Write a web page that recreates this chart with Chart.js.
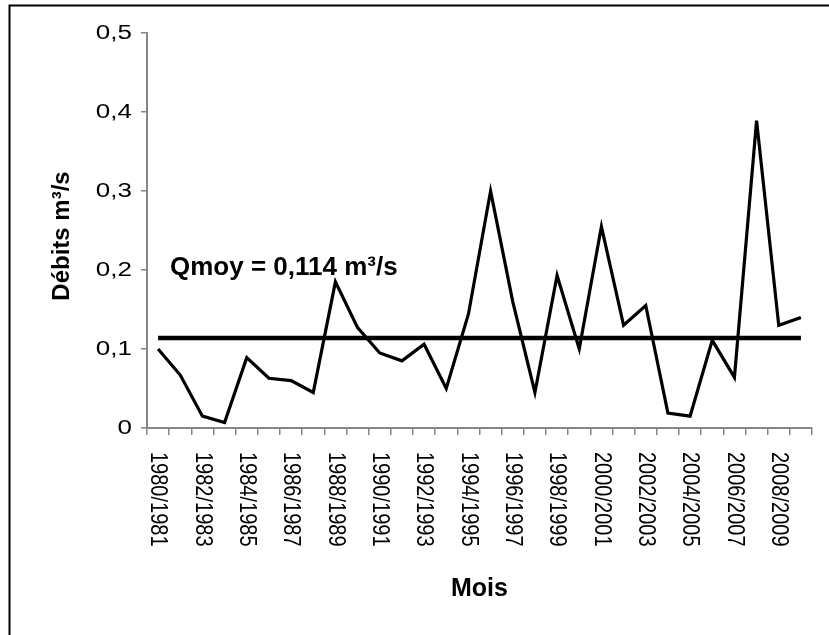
<!DOCTYPE html>
<html>
<head>
<meta charset="utf-8">
<script src="https://cdn.jsdelivr.net/npm/chart.js@4/dist/chart.umd.min.js"></script>
<style>
  html, body { margin: 0; padding: 0; background: #fff; }
  #wrap { width: 829px; height: 635px; position: relative; }
</style>
</head>
<body>
<div id="wrap"><canvas id="debitsChart" width="829" height="635"></canvas></div>
<script>
// Hydrological years (30) and annual discharges
const years = [
  '1980/1981', '1981/1982', '1982/1983', '1983/1984', '1984/1985', '1985/1986',
  '1986/1987', '1987/1988', '1988/1989', '1989/1990', '1990/1991', '1991/1992',
  '1992/1993', '1993/1994', '1994/1995', '1995/1996', '1996/1997', '1997/1998',
  '1998/1999', '1999/2000', '2000/2001', '2001/2002', '2002/2003', '2003/2004',
  '2004/2005', '2005/2006', '2006/2007', '2007/2008', '2008/2009', '2009/2010'
];
const debits = [
  0.100, 0.067, 0.015, 0.007, 0.089, 0.063, 0.060, 0.045, 0.185, 0.127,
  0.095, 0.085, 0.106, 0.050, 0.144, 0.300, 0.160, 0.045, 0.193, 0.100,
  0.255, 0.130, 0.155, 0.019, 0.015, 0.111, 0.064, 0.389, 0.130, 0.140
];
const qmoy = 0.114;
const qmoyLine = years.map(() => qmoy);
const yTicks = [0, 0.1, 0.2, 0.3, 0.4, 0.5];

const fontFamily = '"Liberation Sans", Arial, sans-serif';
const axisGray = '#868686';

function frenchNum(v) {
  return v === 0 ? '0' : v.toFixed(1).replace('.', ',');
}

// draws text with optional horizontal stretch and rotation
function drawText(c, str, x, y, font, align, stretch, angle) {
  c.save();
  c.translate(x, y);
  c.scale(stretch, 1);
  c.rotate(angle);
  c.font = font;
  c.textAlign = align;
  c.textBaseline = 'middle';
  c.fillText(str, 0, 0);
  c.restore();
}

// border, tick labels and the text annotations
const decorPlugin = {
  id: 'decor',
  beforeDraw(chart) {
    const c = chart.ctx;
    c.save();
    c.fillStyle = '#fff';
    c.fillRect(0, 0, chart.width, chart.height);
    c.strokeStyle = '#000';
    c.lineWidth = 2;
    c.beginPath();
    c.moveTo(9.5, chart.height);
    c.lineTo(9.5, 5.5);
    c.lineTo(chart.width, 5.5);
    c.stroke();
    c.restore();
  },
  afterDraw(chart) {
    const c = chart.ctx;
    const xs = chart.scales.x;
    const ys = chart.scales.y;
    const area = chart.chartArea;
    c.save();
    c.fillStyle = '#000';

    // y tick labels
    yTicks.forEach(v => {
      drawText(c, frenchNum(v), area.left - 15, ys.getPixelForValue(v),
        '20px ' + fontFamily, 'right', 1.3, 0);
    });

    // x labels, every other year, reading top to bottom
    years.forEach((lab, i) => {
      if (i % 2 !== 0) return;
      drawText(c, lab, xs.getPixelForValue(i), area.bottom + 24,
        '20px ' + fontFamily, 'left', 1.2, Math.PI / 2);
    });

    // axis titles
    drawText(c, 'Mois', (area.left + area.right) / 2, 589,
      'bold 25px ' + fontFamily, 'center', 1, 0);
    drawText(c, 'Débits m³/s', 62, 236,
      'bold 24px ' + fontFamily, 'center', 1, -Math.PI / 2);

    // mean annotation
    c.font = 'bold 26px ' + fontFamily;
    c.textAlign = 'left';
    c.textBaseline = 'alphabetic';
    c.fillText('Qmoy = 0,114 m³/s', 170, ys.getPixelForValue(0.2) + 5);
    c.restore();
  }
};

const ctx = document.getElementById('debitsChart').getContext('2d');
const chart = new Chart(ctx, {
  type: 'line',
  data: {
    labels: years,
    datasets: [
      {
        label: 'Débits',
        data: debits,
        borderColor: '#000',
        borderWidth: 3.2,
        pointRadius: 0,
        tension: 0,
        fill: false
      },
      {
        label: 'Qmoy',
        data: qmoyLine,
        borderColor: '#000',
        borderWidth: 4.5,
        pointRadius: 0,
        tension: 0,
        fill: false
      }
    ]
  },
  options: {
    responsive: false,
    animation: false,
    devicePixelRatio: 1,
    layout: { padding: { left: 0, top: 33, right: 17, bottom: 0 } },
    plugins: {
      legend: { display: false },
      tooltip: { enabled: false }
    },
    scales: {
      x: {
        type: 'category',
        offset: true,
        grid: {
          offset: true,
          drawOnChartArea: false,
          drawTicks: true,
          tickLength: 7,
          color: axisGray,
          lineWidth: 1.5
        },
        border: { display: true, color: axisGray, width: 2 },
        ticks: { display: false, autoSkip: false },
        afterFit(scale) { scale.height = 635 - 428; }
      },
      y: {
        min: 0,
        max: 0.5,
        afterBuildTicks(scale) { scale.ticks = yTicks.map(v => ({ value: v })); },
        grid: {
          drawOnChartArea: false,
          drawTicks: true,
          tickLength: 6,
          color: axisGray,
          lineWidth: 1.5
        },
        border: { display: true, color: axisGray, width: 2 },
        ticks: { display: false },
        afterFit(scale) { scale.width = 147; }
      }
    }
  },
  plugins: [decorPlugin]
});
</script>
</body>
</html>
